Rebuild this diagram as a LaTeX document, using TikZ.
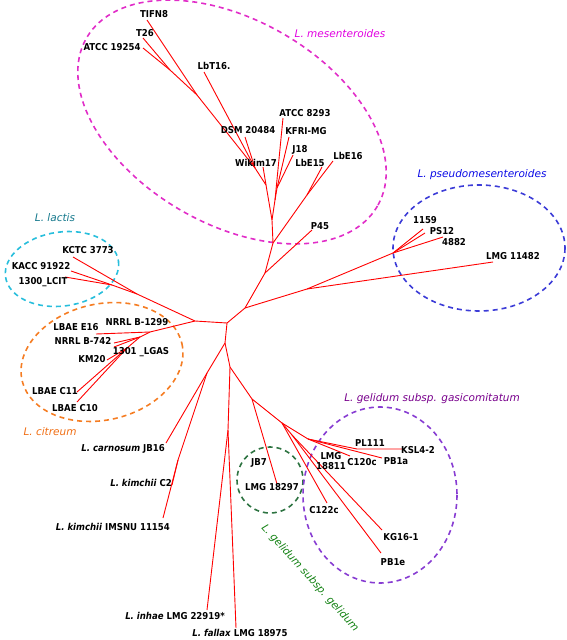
\documentclass[tikz,border=0pt]{standalone}
\usepackage{fontspec}
\setmainfont{DejaVu Sans}
\newfontfamily\condfont{DejaVu Sans Condensed}

\definecolor{mesclr}{RGB}{225,45,200}
\definecolor{mestxt}{RGB}{225,0,225}
\definecolor{psdclr}{RGB}{60,60,215}
\definecolor{psdtxt}{RGB}{10,10,230}
\definecolor{lacclr}{RGB}{40,190,220}
\definecolor{lactxt}{RGB}{20,120,140}
\definecolor{citclr}{RGB}{245,125,35}
\definecolor{cittxt}{RGB}{240,110,20}
\definecolor{gelclr}{RGB}{45,115,65}
\definecolor{geltxt}{RGB}{20,130,20}
\definecolor{gasclr}{RGB}{135,60,210}
\definecolor{gastxt}{RGB}{120,0,140}

\tikzset{
	branch/.style={red, line width=.9pt},
	strain/.style={font=\condfont\bfseries\fontsize{9.5}{10.5}\selectfont, inner sep=0pt},
	clade/.style={line width=1.6pt, dash pattern=on 5pt off 4pt},
	cladename/.style={font=\itshape\fontsize{10.5}{11}\selectfont, inner sep=0pt},
}

\begin{document}
\begin{tikzpicture}[x=1pt,y=-1pt]
	\useasboundingbox (0,0) rectangle (567,640);
	
	% clades
	\draw[clade, mesclr, rotate around={-30:(232,122)}] (232,122) ellipse [x radius=168, y radius=102];
	\draw[clade, lacclr, rotate around={8:(62,269)}] (62,269) ellipse [x radius=57, y radius=37];
	\draw[clade, citclr, rotate around={13:(102,362)}] (102,362) ellipse [x radius=82, y radius=58];
	\draw[clade, psdclr] (479,248) ellipse [x radius=86, y radius=63];
	\draw[clade, gelclr] (270,480) circle [radius=33];
	\draw[clade, gasclr] (380,495) ellipse [x radius=77, y radius=88];
	
	\node[cladename, mestxt] (mesname) at (340,34) {L. mesenteroides};
	\node[cladename, psdtxt] (psdname) at (482,175) {L. pseudomesenteroides};
	\node[cladename, lactxt] (lacname) at (55,218) {L. lactis};
	\node[cladename, cittxt] (citname) at (50,432) {L. citreum};
	\node[cladename, gastxt] (gasname) at (432,399) {L. gelidum subsp. gasicomitatum};
	\node[cladename, geltxt, rotate=-48] (gelname) at (310,578) {L. gelidum subsp. gelidum};
	
	% inner nodes
	\coordinate (c) at (227,323);
	\coordinate (a1) at (245,308);
	\coordinate (a2) at (265,273);
	\coordinate (a3) at (273,243);
	\coordinate (a4) at (307,195);
	\coordinate (a5) at (272,220);
	\coordinate (a6) at (275,200);
	\coordinate (a6b) at (277,188);
	\coordinate (a7) at (266,185);
	\coordinate (a8) at (255,168);
	\coordinate (a9) at (170,70);
	\coordinate (a10) at (197,95);
	\coordinate (p0) at (307,289);
	\coordinate (p1) at (393,253);
	\coordinate (b1) at (195,321);
	\coordinate (l1) at (137,294);
	\coordinate (l2) at (112,285);
	\coordinate (ct1) at (150,332);
	\coordinate (ct2) at (140,337);
	\coordinate (ct3) at (127,348);
	\coordinate (d1) at (225,343);
	\coordinate (d2) at (230,367);
	\coordinate (k0) at (207,373);
	\coordinate (k1) at (178,460);
	\coordinate (f1) at (228,430);
	\coordinate (g1) at (252,399);
	\coordinate (g2) at (282,423);
	\coordinate (g3) at (308,439);
	\coordinate (g4) at (357,449);
	\coordinate (g5) at (292,435);
	
	% tips
	\coordinate (etifn8) at (147,20);
	\coordinate (et26) at (143,38);
	\coordinate (eatcc19254) at (143,48);
	\coordinate (elbt16) at (204,72);
	\coordinate (edsm) at (245,137);
	\coordinate (ewikim) at (263,167);
	\coordinate (eatcc8293) at (283,118);
	\coordinate (ekfri) at (289,137);
	\coordinate (ej18) at (293,155);
	\coordinate (elbe15) at (322,167);
	\coordinate (elbe16) at (333,161);
	\coordinate (ep45) at (312,230);
	\coordinate (e1159) at (423,229);
	\coordinate (eps12) at (425,233);
	\coordinate (e4882) at (443,237);
	\coordinate (elmg11482) at (493,262);
	\coordinate (ekctc) at (73,257);
	\coordinate (ekacc) at (71,271);
	\coordinate (elcit) at (65,277);
	\coordinate (ee16) at (96,334);
	\coordinate (eb742a) at (114,343);
	\coordinate (eb742b) at (114,347);
	\coordinate (ekm20) at (107,360);
	\coordinate (ec11) at (77,392);
	\coordinate (ec10) at (77,402);
	\coordinate (ecarn) at (166,443);
	\coordinate (ec2) at (172,485);
	\coordinate (eimsnu) at (163,518);
	\coordinate (einhae) at (207,610);
	\coordinate (efallax) at (236,628);
	\coordinate (ejb7) at (277,484);
	\coordinate (ec122) at (327,503);
	\coordinate (ekg16) at (382,530);
	\coordinate (epb1e) at (381,553);
	\coordinate (eksl) at (402,449);
	\coordinate (epb1a) at (382,458);
	\coordinate (ec120) at (350,456);
	
	% branches
	\draw[branch] (c) -- (a1) -- (a2) -- (a3) -- (a5) -- (a6) -- (eatcc8293);
	\draw[branch] (a6) -- (a6b) -- (ekfri);
	\draw[branch] (a6b) -- (ej18);
	\draw[branch] (a5) -- (a7) -- (ewikim);
	\draw[branch] (a7) -- (a8) -- (edsm);
	\draw[branch] (a8) -- (elbt16);
	\draw[branch] (a8) -- (a10) -- (etifn8);
	\draw[branch] (a10) -- (a9) -- (et26);
	\draw[branch] (a9) -- (eatcc19254);
	\draw[branch] (a3) -- (a4) -- (elbe16);
	\draw[branch] (a4) -- (elbe15);
	\draw[branch] (a2) -- (ep45);
	\draw[branch] (a1) -- (p0) -- (elmg11482);
	\draw[branch] (p0) -- (p1) -- (e1159);
	\draw[branch] (p1) -- (eps12);
	\draw[branch] (p1) -- (e4882);
	\draw[branch] (c) -- (b1) -- (l1) -- (ekctc);
	\draw[branch] (l1) -- (l2) -- (ekacc);
	\draw[branch] (l2) -- (elcit);
	\draw[branch] (b1) -- (ct1) -- (ee16);
	\draw[branch] (ct1) -- (ct2) -- (eb742a);
	\draw[branch] (ct2) -- (eb742b);
	\draw[branch] (ct2) -- (ct3) -- (ekm20);
	\draw[branch] (ct3) -- (ec11);
	\draw[branch] (ct3) -- (ec10);
	\draw[branch] (c) -- (d1) -- (k0) -- (ecarn);
	\draw[branch] (k0) -- (k1) -- (ec2);
	\draw[branch] (k1) -- (eimsnu);
	\draw[branch] (d1) -- (d2) -- (f1) -- (einhae);
	\draw[branch] (f1) -- (efallax);
	\draw[branch] (d2) -- (g1) -- (ejb7);
	\draw[branch] (g1) -- (g2) -- (ec122);
	\draw[branch] (g2) -- (g5) -- (ekg16);
	\draw[branch] (g5) -- (epb1e);
	\draw[branch] (g2) -- (g3) -- (g4) -- (eksl);
	\draw[branch] (g3) -- (epb1a);
	\draw[branch] (g3) -- (ec120);
	
	% strain names
	\node[strain] (tifn8) at (154,14) {TIFN8};
	\node[strain] (t26) at (145,33) {T26};
	\node[strain] (atcc19254) at (112,47) {ATCC 19254};
	\node[strain] (lbt16) at (214,66) {LbT16.};
	\node[strain] (dsm) at (248,130) {DSM 20484};
	\node[strain] (wikim) at (256,163) {Wikim17};
	\node[strain] (atcc8293) at (305,113) {ATCC 8293};
	\node[strain] (kfri) at (306,131) {KFRI-MG};
	\node[strain] (j18) at (300,150) {J18};
	\node[strain] (lbe15) at (310,163) {LbE15};
	\node[strain] (lbe16) at (348,156) {LbE16};
	\node[strain] (p45) at (320,226) {P45};
	\node[strain] (s1159) at (425,220) {1159};
	\node[strain] (ps12) at (442,231) {PS12};
	\node[strain] (s4882) at (454,242) {4882};
	\node[strain] (lmg11482) at (513,256) {LMG 11482};
	\node[strain] (kctc) at (88,250) {KCTC 3773};
	\node[strain] (kacc) at (41,266) {KACC 91922};
	\node[strain] (lcit) at (43,282) {1300\_LCIT};
	\node[strain] (b1299) at (137,322) {NRRL B-1299};
	\node[strain] (e16) at (76,327) {LBAE E16};
	\node[strain] (b742) at (83,341) {NRRL B-742};
	\node[strain] (lgas) at (141,352) {1301 \_LGAS};
	\node[strain] (km20) at (92,359) {KM20};
	\node[strain] (c11) at (55,391) {LBAE C11};
	\node[strain] (c10) at (75,408) {LBAE C10};
	\node[strain, anchor=east] (carn) at (165,449) {\textit{L. carnosum} JB16};
	\node[strain, anchor=east] (kimc2) at (172,483) {\textit{L. kimchii} C2};
	\node[strain, anchor=east] (imsnu) at (170,527) {\textit{L. kimchii} IMSNU 11154};
	\node[strain] (inhae) at (175,616) {\textit{L. inhae} LMG 22919*};
	\node[strain] (fallax) at (240,633) {\textit{L. fallax} LMG 18975};
	\node[strain] (jb7) at (259,463) {JB7};
	\node[strain] (lmg18297) at (272,487) {LMG 18297};
	\node[strain, align=center] (lmg18811) at (331,461) {LMG\\18811};
	\node[strain] (c120c) at (362,462) {C120c};
	\node[strain] (pl111) at (370,443) {PL111};
	\node[strain] (ksl) at (418,450) {KSL4-2};
	\node[strain] (pb1a) at (396,461) {PB1a};
	\node[strain] (c122c) at (324,510) {C122c};
	\node[strain] (kg16) at (401,537) {KG16-1};
	\node[strain] (pb1e) at (393,562) {PB1e};
\end{tikzpicture}
\end{document}
